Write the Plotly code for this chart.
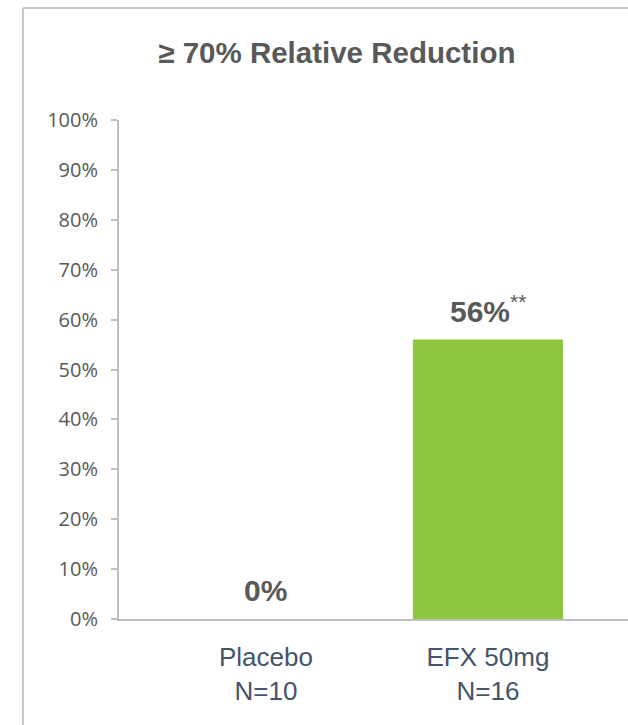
import plotly.graph_objects as go

# Data
groups = ["Placebo", "EFX 50mg"]
group_n = ["N=10", "N=16"]
responders = [0.00, 0.56]
label_suffix = ["", "<sup><span style='font-size:21px'>**</span></sup>"]
y_ticks = [0, 0.1, 0.2, 0.3, 0.4, 0.5, 0.6, 0.7, 0.8, 0.9, 1.0]

GREEN = "#8dc63f"
GREY_TEXT = "#595959"
AXIS_GREY = "#bfbfbf"
CAT_TEXT = "#44546a"

positions = list(range(len(groups)))

fig = go.Figure()
fig.add_trace(go.Bar(
    x=positions,
    y=responders,
    width=0.676,
    marker=dict(color=GREEN, line=dict(width=0)),
    hoverinfo="skip",
))

# Value labels above each bar
for xi, val, suf in zip(positions, responders, label_suffix):
    fig.add_annotation(
        x=xi, y=val, xref="x", yref="y",
        text=f"<b>{val*100:.0f}%</b>{suf}",
        showarrow=False, yanchor="bottom", yshift=10,
        font=dict(family="Liberation Sans, Arial, sans-serif", size=30, color=GREY_TEXT),
    )

fig.update_layout(
    width=628, height=725,
    margin=dict(l=119, r=0, t=120, b=106),
    paper_bgcolor="white", plot_bgcolor="white",
    showlegend=False,
    title=dict(
        text="<b>≥ 70% Relative Reduction</b>",
        x=0.428, xref="paper", xanchor="center",
        y=1 - 53 / 725, yref="container", yanchor="middle",
        font=dict(family="Liberation Sans, Arial, sans-serif", size=29.5, color=GREY_TEXT),
    ),
    xaxis=dict(
        range=[-0.662, 1.631],
        tickvals=positions,
        ticktext=[f"{g}<br>{n}" for g, n in zip(groups, group_n)],
        tickfont=dict(family="Liberation Sans, Arial, sans-serif", size=26, color=CAT_TEXT),
        showline=True, linecolor=AXIS_GREY, linewidth=2,
        showgrid=False, zeroline=False, ticks="",
        ticklabelstandoff=14,
        fixedrange=True,
    ),
    yaxis=dict(
        range=[0, 1.0],
        tickvals=y_ticks,
        ticktext=[f"{v*100:.0f}%" for v in y_ticks],
        tickfont=dict(family="Open Sans, sans-serif", size=20, color=GREY_TEXT),
        showline=True, linecolor=AXIS_GREY, linewidth=2,
        ticks="outside", ticklen=6, tickcolor=AXIS_GREY, tickwidth=2,
        showgrid=False, zeroline=False,
        ticklabelstandoff=9,
        fixedrange=True,
    ),
    shapes=[
        # frame around the chart panel
        dict(type="line", xref="paper", yref="paper",
             x0=-0.1886, x1=-0.1886, y0=1.2244, y1=-0.25,
             line=dict(color="#c8c8c8", width=2)),
        dict(type="line", xref="paper", yref="paper",
             x0=-0.1886, x1=1.02, y0=1.2244, y1=1.2244,
             line=dict(color="#c8c8c8", width=2)),
    ],
)

fig.write_html("out.html", config={"displayModeBar": False})
